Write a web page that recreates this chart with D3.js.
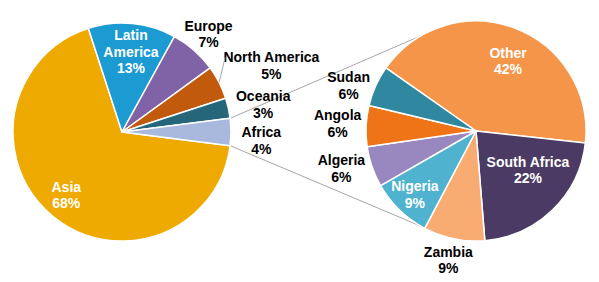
<!DOCTYPE html>
<html>
<head>
<meta charset="utf-8">
<script src="https://cdn.jsdelivr.net/npm/d3@7"></script>
<style>
  body { margin: 0; background: #fff; }
  svg text { font-family: "Liberation Sans", Arial, sans-serif; font-weight: bold; font-size: 14px; }
</style>
</head>
<body>
<div id="chart"></div>
<script>
// Size of the picture
let width = 599;
let height = 282;

// World split (left pie)
let regions = ["Asia", "Latin America", "Europe", "North America", "Oceania", "Africa"];
let regionShares = [68, 13, 7, 5, 3, 4];

// Africa split (right pie)
let countries = ["Other", "South Africa", "Zambia", "Nigeria", "Algeria", "Angola", "Sudan"];
let countryShares = [42, 22, 9, 9, 6, 6, 6];

let regionColors = ["#EEAA00", "#1C9AD2", "#8063A7", "#C25A0D", "#25667A", "#A8B9DD"];
let countryColors = ["#F5954A", "#4B3A63", "#F9AC72", "#4FB2CE", "#9987BF", "#EE7417", "#2F87A0"];

// label placement: fraction of radius, angle nudge in degrees, text colour
let regionLabels = {
    "Asia": [0.77, 2, "#fff"],
    "Latin America": [0.74, 1, "#fff"],
    "Europe": [1.2, 0, "#000"],
    "North America": [1.5, 3, "#000"],
    "Oceania": [1.32, 1.5, "#000"],
    "Africa": [1.28, 3.5, "#000"]
};
let countryLabels = {
    "Other": [0.7, 4, "#fff"],
    "South Africa": [0.59, -9, "#fff"],
    "Zambia": [1.2, 0.5, "#000"],
    "Nigeria": [0.8, 0, "#fff"],
    "Algeria": [1.27, 3.5, "#000"],
    "Angola": [1.26, 0.5, "#000"],
    "Sudan": [1.23, -4.5, "#000"]
};

let deg = Math.PI / 180;

let svg = d3.select('#chart')
.append('svg')
.attr('width', width)
.attr('height', height);

// Left pie: Africa slice is centred on the right-hand horizontal
let left = {cx: 122, cy: 132, r: 109};
let africaIdx = regions.indexOf("Africa");
let total = d3.sum(regionShares);
let africaHalf = regionShares[africaIdx] / total * Math.PI;
let leftStart = Math.PI / 2 + africaHalf;

let leftPie = d3.pie().sort(null)
.startAngle(leftStart)
.endAngle(leftStart + 2 * Math.PI);

let right = {cx: 476, cy: 131, r: 110};
let rightPie = d3.pie().sort(null)
.startAngle(-55 * deg)
.endAngle(-55 * deg + 2 * Math.PI);

function point(c, angle, rad){
    return [c.cx + rad * Math.sin(angle), c.cy - rad * Math.cos(angle)];
}

// Connector lines from the Africa slice to the second pie
let leftArcs = leftPie(regionShares);
let africaArc = leftArcs[africaIdx];
let conn = svg.append('g');
let links = [
    [point(left, africaArc.startAngle, left.r), point(right, -30 * deg, right.r)],
    [point(left, africaArc.endAngle, left.r), point(right, 210 * deg, right.r)]
];
conn.selectAll('line')
.data(links)
.enter()
.append('line')
.attr('x1', function(d){return d[0][0];})
.attr('y1', function(d){return d[0][1];})
.attr('x2', function(d){return d[1][0];})
.attr('y2', function(d){return d[1][1];})
.attr('stroke', '#A6A6A6')
.attr('stroke-width', 1);

function drawPie(c, arcs, names, colors, labels){
    let g = svg.append('g').attr('transform', 'translate(' + c.cx + ',' + c.cy + ')');
    let arc = d3.arc().innerRadius(0).outerRadius(c.r);

    g.selectAll('path')
    .data(arcs)
    .enter()
    .append('path')
    .attr('d', arc)
    .attr('fill', function(d, i){return colors[i];})
    .attr('stroke', '#fff')
    .attr('stroke-width', 1.5)
    .attr('stroke-linejoin', 'round');

    let txt = g.selectAll('text')
    .data(arcs)
    .enter()
    .append('text')
    .attr('text-anchor', 'middle')
    .attr('fill', function(d, i){return labels[names[i]][2];})
    .attr('transform', function(d, i){
        let l = labels[names[i]];
        let a = (d.startAngle + d.endAngle) / 2 + l[1] * deg;
        let rr = c.r * l[0];
        return 'translate(' + (rr * Math.sin(a)) + ',' + (-rr * Math.cos(a)) + ')';
    });

    txt.each(function(d, i){
        let name = names[i];
        let lines = name.split(' ');
        if(name == "North America" || name == "South Africa") lines = [name];
        lines.push(d.data + '%');
        let n = lines.length;
        let t = d3.select(this);
        lines.forEach(function(s, k){
            t.append('tspan')
            .attr('x', 0)
            .attr('y', (k - (n - 1) / 2) * 16.5 + 5)
            .text(s);
        });
    });
    return g;
}

drawPie(left, leftArcs, regions, regionColors, regionLabels);
drawPie(right, rightPie(countryShares), countries, countryColors, countryLabels);

// small leader line for North America
let naArc = leftArcs[regions.indexOf("North America")];
let naMid = (naArc.startAngle + naArc.endAngle) / 2;
let p0 = point(left, naMid, left.r);
svg.append('line')
.attr('x1', p0[0])
.attr('y1', p0[1])
.attr('x2', p0[0] + 6)
.attr('y2', p0[1] - 25)
.attr('stroke', '#A6A6A6')
.attr('stroke-width', 1);
</script>
</body>
</html>
